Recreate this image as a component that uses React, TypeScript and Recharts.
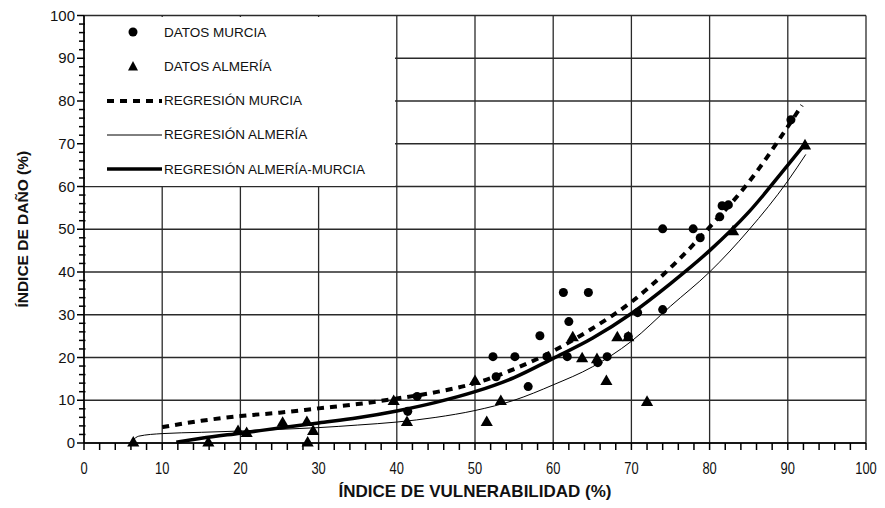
import React from 'react'
import { ComposedChart, Line, Scatter, XAxis, YAxis, ZAxis, CartesianGrid } from 'recharts'

// Axis ticks: labelled every 10, small ticks every 2
const majorTicks = [0, 10, 20, 30, 40, 50, 60, 70, 80, 90, 100]
const minorTicks = [
  0, 2, 4, 6, 8, 10, 12, 14, 16, 18, 20, 22, 24, 26, 28, 30, 32, 34, 36, 38, 40, 42, 44, 46, 48, 50,
  52, 54, 56, 58, 60, 62, 64, 66, 68, 70, 72, 74, 76, 78, 80, 82, 84, 86, 88, 90, 92, 94, 96, 98, 100,
]

// Observed data (vulnerability %, damage %)
const murciaPoints = [
  { x: 41.4, y: 7.4 }, { x: 42.6, y: 10.9 }, { x: 52.3, y: 20.2 }, { x: 52.7, y: 15.5 },
  { x: 55.1, y: 20.2 }, { x: 56.8, y: 13.2 }, { x: 58.3, y: 25.1 }, { x: 59.2, y: 20.2 },
  { x: 61.8, y: 20.2 }, { x: 61.3, y: 35.2 }, { x: 62.0, y: 28.4 }, { x: 64.5, y: 35.2 },
  { x: 65.7, y: 18.8 }, { x: 66.9, y: 20.2 }, { x: 69.6, y: 24.9 }, { x: 70.8, y: 30.5 },
  { x: 74.0, y: 50.1 }, { x: 74.0, y: 31.2 }, { x: 77.9, y: 50.1 }, { x: 78.8, y: 48.0 },
  { x: 81.3, y: 52.9 }, { x: 81.6, y: 55.5 }, { x: 82.4, y: 55.7 }, { x: 90.4, y: 75.6 },
]

const almeriaPoints = [
  { x: 6.3, y: 0 }, { x: 15.9, y: 0 }, { x: 19.7, y: 2.7 }, { x: 20.8, y: 2.2 },
  { x: 25.4, y: 4.6 }, { x: 28.5, y: 4.8 }, { x: 28.6, y: 0 }, { x: 29.3, y: 2.7 },
  { x: 39.6, y: 9.7 }, { x: 41.3, y: 4.8 }, { x: 50.0, y: 14.4 }, { x: 51.5, y: 4.8 },
  { x: 53.3, y: 9.7 }, { x: 62.5, y: 24.6 }, { x: 63.7, y: 19.7 }, { x: 65.6, y: 19.5 },
  { x: 66.8, y: 14.4 }, { x: 68.2, y: 24.6 }, { x: 69.6, y: 24.6 }, { x: 72.0, y: 9.5 },
  { x: 83.0, y: 49.4 }, { x: 92.2, y: 69.5 },
]

// Regression curves
const murciaFit = [
  { x: 10, y: 3.7 }, { x: 15, y: 5.2 }, { x: 20, y: 6.3 }, { x: 25, y: 7.1 }, { x: 30, y: 8.1 },
  { x: 35, y: 9.1 }, { x: 40, y: 10.4 }, { x: 45, y: 11.9 }, { x: 50, y: 14 }, { x: 55, y: 17.3 },
  { x: 60, y: 21.5 }, { x: 65, y: 26.8 }, { x: 70, y: 33 }, { x: 75, y: 41 }, { x: 80, y: 50.5 },
  { x: 85, y: 61 }, { x: 90, y: 74 }, { x: 91.8, y: 79 },
]

const almeriaFit = [
  { x: 6.2, y: 0.6 }, { x: 7, y: 1.6 }, { x: 10, y: 2.2 }, { x: 15, y: 2.5 }, { x: 20, y: 2.8 },
  { x: 25, y: 3.2 }, { x: 30, y: 3.6 }, { x: 35, y: 4.2 }, { x: 40, y: 4.9 }, { x: 45, y: 6 },
  { x: 50, y: 7.6 }, { x: 55, y: 10 }, { x: 60, y: 13.6 }, { x: 65, y: 17.8 }, { x: 70, y: 23.8 },
  { x: 75, y: 32 }, { x: 80, y: 40 }, { x: 85, y: 49.8 }, { x: 90, y: 61.3 }, { x: 92.3, y: 67.5 },
]

const combinedFit = [
  { x: 11.8, y: 0.2 }, { x: 15, y: 1.1 }, { x: 20, y: 2.3 }, { x: 25, y: 3.5 }, { x: 30, y: 4.7 },
  { x: 35, y: 5.9 }, { x: 40, y: 7.5 }, { x: 45, y: 9.5 }, { x: 50, y: 12 }, { x: 55, y: 15.3 },
  { x: 60, y: 19.8 }, { x: 65, y: 24.5 }, { x: 70, y: 30.3 }, { x: 75, y: 37.3 }, { x: 80, y: 45 },
  { x: 85, y: 54 }, { x: 90, y: 65 }, { x: 92, y: 69.5 },
]

const legendRows = [
  { label: 'DATOS MURCIA', kind: 'circle' },
  { label: 'DATOS ALMERÍA', kind: 'triangle' },
  { label: 'REGRESIÓN MURCIA', kind: 'dashed' },
  { label: 'REGRESIÓN ALMERÍA', kind: 'thin' },
  { label: 'REGRESIÓN ALMERÍA-MURCIA', kind: 'thick' },
]

const W = 869
const H = 500
const sans = "'Liberation Sans', Arial, sans-serif"

function XTick(props: any) {
  const { x, y, payload } = props
  const v = payload.value
  const major = v % 10 === 0
  return (
    <g>
      <line x1={x} y1={y} x2={x} y2={y + 7} stroke="#000" strokeWidth={1.5} />
      {major && (
        <text
          transform={`translate(${x},${y + 31}) scale(0.76,1)`}
          textAnchor="middle"
          fontSize={17}
          fontFamily={sans}
          fill="#111"
        >
          {v}
        </text>
      )}
    </g>
  )
}

function YTick(props: any) {
  const { x, y, payload } = props
  const v = payload.value
  const major = v % 10 === 0
  return (
    <g>
      <line x1={x + (major ? 0 : 1.5)} y1={y} x2={x - (major ? 7 : 5)} y2={y} stroke="#000" strokeWidth={1.5} />
      {major && (
        <text x={x - 9} y={y + 5} textAnchor="end" fontSize={15} fontFamily={sans} fill="#111">
          {v}
        </text>
      )}
    </g>
  )
}

function LegendSymbol({ kind }: { kind: string }) {
  return (
    <svg width={58} height={12} style={{ display: 'block' }}>
      {kind === 'circle' && <circle cx={28} cy={6} r={4.5} fill="#000" />}
      {kind === 'triangle' && <polygon points="28,1 33,10.5 23,10.5" fill="#000" />}
      {kind === 'dashed' && (
        <line x1={2} y1={6} x2={57} y2={6} stroke="#000" strokeWidth={4} strokeDasharray="7 6" />
      )}
      {kind === 'thin' && <line x1={2} y1={6} x2={57} y2={6} stroke="#000" strokeWidth={1} />}
      {kind === 'thick' && <line x1={2} y1={6} x2={57} y2={6} stroke="#000" strokeWidth={3.5} />}
    </svg>
  )
}

export default function App() {
  return (
    <div style={{ position: 'relative', width: W, height: H, background: '#fff' }}>
      <ComposedChart width={W} height={H} margin={{ top: 7.5, right: 11, bottom: 0, left: 0 }}>
        <CartesianGrid
          xAxisId="maj"
          yAxisId="maj"
          horizontalValues={majorTicks}
          verticalValues={majorTicks}
          stroke="#2a2a2a"
          strokeWidth={1.3}
        />
        <XAxis
          xAxisId="maj"
          type="number"
          dataKey="x"
          domain={[0, 100]}
          ticks={minorTicks}
          interval={0}
          height={65}
          axisLine={{ stroke: '#000', strokeWidth: 1.5 }}
          tickLine={false}
          tickSize={0}
          tickMargin={0}
          tick={<XTick />}
          label={{
            value: 'ÍNDICE DE VULNERABILIDAD (%)',
            position: 'insideBottom',
            offset: 11,
            style: { fontSize: 17, fontWeight: 700, fill: '#111', fontFamily: sans },
          }}
        />
        <YAxis
          yAxisId="maj"
          type="number"
          dataKey="y"
          domain={[0, 100]}
          ticks={minorTicks}
          interval={0}
          width={76}
          axisLine={{ stroke: '#000', strokeWidth: 1.5 }}
          tickLine={false}
          tickSize={0}
          tickMargin={0}
          tick={<YTick />}
          label={{
            value: 'ÍNDICE DE DAÑO (%)',
            angle: -90,
            position: 'insideLeft',
            offset: 14,
            style: { textAnchor: 'middle', fontSize: 15.5, fontWeight: 700, fill: '#111', fontFamily: sans },
          }}
        />
        <ZAxis zAxisId="circ" range={[95, 95]} />
        <ZAxis zAxisId="tri" range={[70, 70]} />
        <Line
          xAxisId="maj"
          yAxisId="maj"
          data={almeriaFit}
          dataKey="y"
          type="monotone"
          stroke="#000"
          strokeWidth={1}
          dot={false}
          isAnimationActive={false}
        />
        <Line
          xAxisId="maj"
          yAxisId="maj"
          data={murciaFit}
          dataKey="y"
          type="monotone"
          stroke="#000"
          strokeWidth={4}
          strokeDasharray="7 6"
          dot={false}
          isAnimationActive={false}
        />
        <Line
          xAxisId="maj"
          yAxisId="maj"
          data={combinedFit}
          dataKey="y"
          type="monotone"
          stroke="#000"
          strokeWidth={3.5}
          dot={false}
          isAnimationActive={false}
        />
        <Scatter
          xAxisId="maj"
          yAxisId="maj"
          zAxisId="circ"
          data={murciaPoints}
          shape="circle"
          fill="#000"
          isAnimationActive={false}
        />
        <Scatter
          xAxisId="maj"
          yAxisId="maj"
          zAxisId="tri"
          data={almeriaPoints}
          shape="triangle"
          fill="#000"
          isAnimationActive={false}
        />
      </ComposedChart>

      {/* Legend box covering the upper-left grid cells */}
      <div
        style={{
          position: 'absolute',
          left: 77,
          top: 8.5,
          width: 310,
          height: 169,
          background: '#fff',
          fontFamily: sans,
          fontSize: 13.5,
          color: '#111',
        }}
      >
        {legendRows.map((row, i) => (
          <div
            key={row.label}
            style={{
              position: 'absolute',
              left: 20,
              top: 8 + i * 34.3,
              display: 'flex',
              alignItems: 'center',
              whiteSpace: 'nowrap',
            }}
          >
            <LegendSymbol kind={row.kind} />
            <span style={{ marginLeft: 1 }}>{row.label}</span>
          </div>
        ))}
      </div>
    </div>
  )
}
